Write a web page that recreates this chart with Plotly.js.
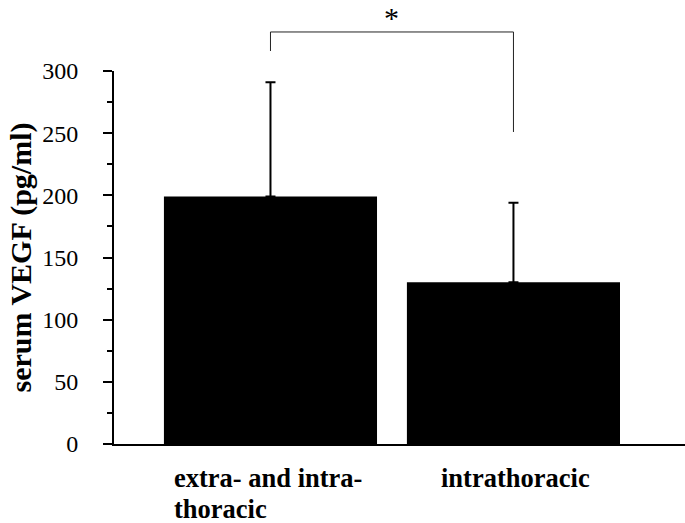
<!DOCTYPE html>
<html>
<head>
<meta charset="utf-8">
<script src="https://cdn.plot.ly/plotly-3.0.1.min.js"></script>
<style>
  body { margin: 0; background: #fff; }
  #chart { width: 685px; height: 523px; }
</style>
</head>
<body>
<div id="chart"></div>
<script>
// Serum VEGF by tumour location (mean + SD)
const groups = ['extra- and intra-<br>thoracic', 'intrathoracic'];
const meanVEGF = [199, 130];
const sdVEGF = [92, 64];
const yTicks = [0, 50, 100, 150, 200, 250, 300];

const serif = 'Liberation Serif, Times New Roman, serif';

const trace = {
  type: 'bar',
  x: [0, 1],
  y: meanVEGF,
  width: 0.877,
  marker: { color: '#000', line: { width: 0 } },
  error_y: {
    type: 'data',
    symmetric: false,
    array: sdVEGF,
    arrayminus: [0, 0],
    color: '#000',
    thickness: 2,
    width: 5
  },
  hoverinfo: 'none'
};

// category labels under the bars, left aligned, one annotation per line
const labelX = [-0.405, 0.693];
const annotations = [];
groups.forEach((g, i) => {
  g.split('<br>').forEach((line, j) => {
    annotations.push({
      xref: 'x', yref: 'paper',
      x: labelX[i], y: 0,
      xanchor: 'left', yanchor: 'top',
      yshift: -17 - j * 31,
      showarrow: false,
      text: '<b>' + line + '</b>',
      font: { family: serif, size: 26.5, color: '#000' }
    });
  });
});

// significance asterisk
annotations.push({
  xref: 'x', yref: 'paper',
  x: 0.5, y: 1.193,
  showarrow: false,
  text: '*',
  font: { family: serif, size: 30, color: '#000' }
});

// bracket between the two groups
const bracket = [
  { x0: 0, x1: 0, y0: 1.0536, y1: 1.1046 },
  { x0: 0, x1: 1, y0: 1.1046, y1: 1.1046 },
  { x0: 1, x1: 1, y0: 1.1046, y1: 0.8365 }
].map(s => Object.assign({
  type: 'line', xref: 'x', yref: 'paper',
  line: { color: '#222', width: 1 }
}, s));

const layout = {
  width: 685,
  height: 523,
  margin: { l: 114, r: 0, t: 71, b: 79, pad: 0 },
  paper_bgcolor: '#fff',
  plot_bgcolor: '#fff',
  showlegend: false,
  font: { family: serif, color: '#000' },
  xaxis: {
    range: [-0.644, 1.706],
    showticklabels: false,
    ticks: '',
    showgrid: false,
    zeroline: false,
    showline: true,
    linecolor: '#000',
    linewidth: 2,
    fixedrange: true
  },
  yaxis: {
    range: [0, 300],
    tickvals: yTicks,
    ticks: 'outside',
    ticklen: 9,
    tickwidth: 2,
    tickcolor: '#000',
    ticklabelstandoff: 20,
    minor: { dtick: 25, ticks: 'outside', ticklen: 5, tickwidth: 2, tickcolor: '#000' },
    showgrid: false,
    zeroline: false,
    showline: true,
    linecolor: '#000',
    linewidth: 2,
    tickfont: { family: serif, size: 24, color: '#000' },
    title: {
      text: '<b>serum VEGF (pg/ml)</b>',
      font: { family: serif, size: 30, color: '#000' },
      standoff: 2
    },
    fixedrange: true
  },
  shapes: bracket,
  annotations: annotations
};

Plotly.newPlot('chart', [trace], layout, { displayModeBar: false, staticPlot: true });
</script>
</body>
</html>
